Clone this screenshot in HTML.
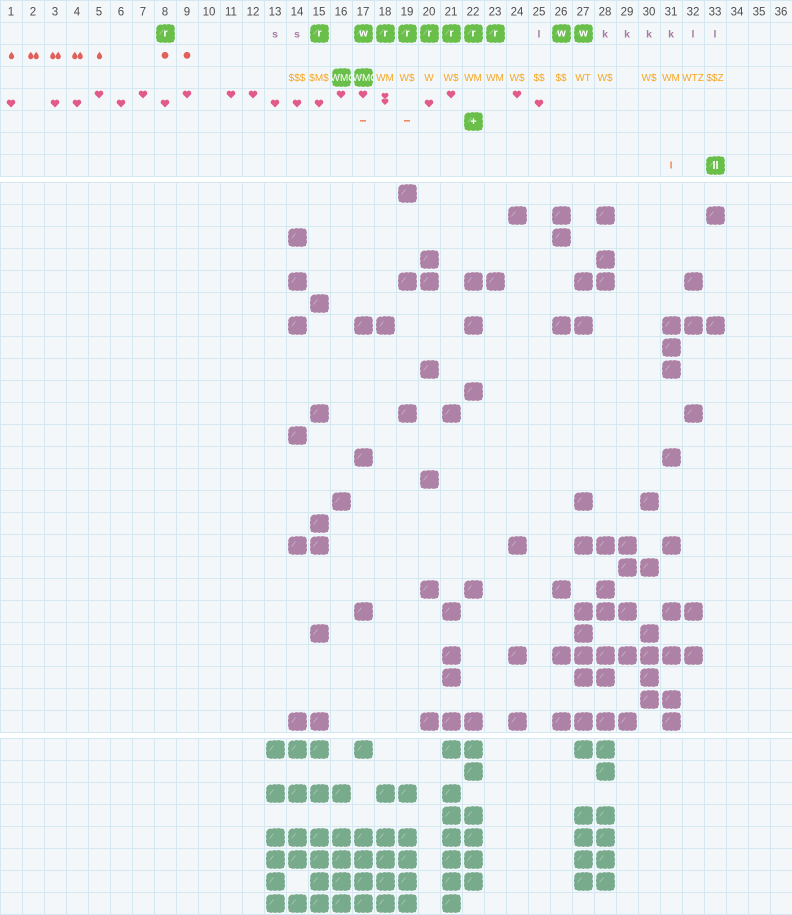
<!DOCTYPE html>
<html><head><meta charset="utf-8">
<style>
html,body{margin:0;padding:0;background:#fff;}
svg{display:block;}
text{font-family:"Liberation Sans",Arial,sans-serif;}
</style></head>
<body>
<svg width="792" height="915" viewBox="0 0 792 915" xmlns="http://www.w3.org/2000/svg">
<defs>
<pattern id="g1" x="0" y="0" width="22" height="22" patternUnits="userSpaceOnUse">
<rect width="22" height="22" fill="#f3f7f9"/><rect width="22" height="1" fill="#d4e8f1"/><rect width="1" height="22" fill="#d4e8f1"/>
</pattern>
<pattern id="g2" x="0" y="182" width="22" height="22" patternUnits="userSpaceOnUse">
<rect width="22" height="22" fill="#f3f7f9"/><rect width="22" height="1" fill="#d4e8f1"/><rect width="1" height="22" fill="#d4e8f1"/>
</pattern>
<pattern id="g3" x="0" y="738" width="22" height="22" patternUnits="userSpaceOnUse">
<rect width="22" height="22" fill="#f3f7f9"/><rect width="22" height="1" fill="#d4e8f1"/><rect width="1" height="22" fill="#d4e8f1"/>
</pattern>
<g id="B">
<path d="M4,3.5 Q6,1.8 8,3 Q10,1.5 12.5,2.6 Q15,1.5 17,2.8 Q19.8,2 20.3,4.5 Q21.5,7 20.2,9 Q21.8,11.5 20.4,13.5 Q21.8,16 20.2,18 Q20.5,20.6 17.8,20.2 Q15.5,21.6 13.5,20.3 Q11,21.6 9,20.2 Q6.5,21.5 4.8,20 Q2.2,20.2 2.7,17.5 Q1.3,15 2.6,13 Q1.2,10.5 2.6,8.5 Q1.5,5.5 4,3.5 Z"/>
<path d="M5.5,12.5 L9.5,7.5" stroke="#ffffff" stroke-opacity="0.35" stroke-width="0.9" fill="none"/>
</g>
<path id="H" d="M0,4 L-3.6,0.4 C-4.8,-0.8 -4.4,-3.2 -2.4,-3.8 C-1.2,-4.1 -0.4,-3.4 0,-2.6 C0.4,-3.4 1.2,-4.1 2.4,-3.8 C4.4,-3.2 4.8,-0.8 3.6,0.4 Z"/>
<path id="D" d="M0,-3.8 C1,-2.2 2.6,-0.6 2.6,1.2 A2.6,2.6 0 0 1 -2.6,1.2 C-2.6,-0.6 -1,-2.2 0,-3.8 Z"/>
</defs>

<rect x="0" y="0" width="792" height="177" fill="url(#g1)"/>
<rect x="0" y="182" width="792" height="551" fill="url(#g2)"/>
<rect x="0" y="738" width="792" height="177" fill="url(#g3)"/>

<!-- header -->
<g font-size="11.5" fill="#4d4d4d" text-anchor="middle">
<text x="11" y="15.5">1</text><text x="33" y="15.5">2</text><text x="55" y="15.5">3</text><text x="77" y="15.5">4</text><text x="99" y="15.5">5</text><text x="121" y="15.5">6</text><text x="143" y="15.5">7</text><text x="165" y="15.5">8</text><text x="187" y="15.5">9</text><text x="209" y="15.5">10</text><text x="231" y="15.5">11</text><text x="253" y="15.5">12</text><text x="275" y="15.5">13</text><text x="297" y="15.5">14</text><text x="319" y="15.5">15</text><text x="341" y="15.5">16</text><text x="363" y="15.5">17</text><text x="385" y="15.5">18</text><text x="407" y="15.5">19</text><text x="429" y="15.5">20</text><text x="451" y="15.5">21</text><text x="473" y="15.5">22</text><text x="495" y="15.5">23</text><text x="517" y="15.5">24</text><text x="539" y="15.5">25</text><text x="561" y="15.5">26</text><text x="583" y="15.5">27</text><text x="605" y="15.5">28</text><text x="627" y="15.5">29</text><text x="649" y="15.5">30</text><text x="671" y="15.5">31</text><text x="693" y="15.5">32</text><text x="715" y="15.5">33</text><text x="737" y="15.5">34</text><text x="759" y="15.5">35</text><text x="781" y="15.5">36</text>
</g>

<!-- bright green blobs -->
<g fill="#6abf4b">
<use href="#B" x="154" y="22"/><use href="#B" x="308" y="22"/><use href="#B" x="352" y="22"/><use href="#B" x="374" y="22"/><use href="#B" x="396" y="22"/><use href="#B" x="418" y="22"/><use href="#B" x="440" y="22"/><use href="#B" x="462" y="22"/><use href="#B" x="484" y="22"/><use href="#B" x="550" y="22"/><use href="#B" x="572" y="22"/>
<use href="#B" x="330" y="66"/><use href="#B" x="352" y="66"/>
<use href="#B" x="462" y="110"/>
<use href="#B" x="704" y="154"/>
</g>
<g fill="#ffffff" font-weight="bold" font-size="11" text-anchor="middle">
<text x="165.5" y="36.5">r</text><text x="319.5" y="36.5">r</text><text x="363.5" y="36.5">w</text><text x="385.5" y="36.5">r</text><text x="407.5" y="36.5">r</text><text x="429.5" y="36.5">r</text><text x="451.5" y="36.5">r</text><text x="473.5" y="36.5">r</text><text x="495.5" y="36.5">r</text><text x="561.5" y="36.5">w</text><text x="583.5" y="36.5">w</text>
<text x="473.5" y="125">+</text>
<text x="715.5" y="169">ll</text>
</g>
<g fill="#a87ba0" font-weight="bold" font-size="10.5" text-anchor="middle">
<text x="275" y="37.5">s</text><text x="297" y="37.5">s</text><text x="539" y="37.5">l</text><text x="605" y="37.5">k</text><text x="627" y="37.5">k</text><text x="649" y="37.5">k</text><text x="671" y="37.5">k</text><text x="693" y="37.5">l</text><text x="715" y="37.5">l</text>
</g>

<!-- row 2 drops -->
<g fill="#e0605a">
<use href="#D" x="11.5" y="55.5"/>
<use href="#D" x="30.8" y="55.5"/><use href="#D" x="36.2" y="55.5"/>
<use href="#D" x="52.8" y="55.5"/><use href="#D" x="58.2" y="55.5"/>
<use href="#D" x="74.8" y="55.5"/><use href="#D" x="80.2" y="55.5"/>
<use href="#D" x="99.5" y="55.5"/>
<circle cx="165" cy="55.3" r="3.4"/><circle cx="187" cy="55.3" r="3.4"/>
</g>

<!-- row 3 orange text -->
<g fill="#f5a623" font-size="10" text-anchor="middle">
<text x="297" y="81">$$$</text><text x="319" y="81">$M$</text><text x="385" y="81">WM</text><text x="407" y="81">W$</text><text x="429" y="81">W</text><text x="451" y="81">W$</text><text x="473" y="81">WM</text><text x="495" y="81">WM</text><text x="517" y="81">W$</text><text x="539" y="81">$$</text><text x="561" y="81">$$</text><text x="583" y="81">WT</text><text x="605" y="81">W$</text><text x="649" y="81">W$</text><text x="671" y="81">WM</text><text x="693" y="81">WTZ</text><text x="715" y="81">$$Z</text>
</g>
<svg x="330" y="66" width="22" height="22" overflow="hidden"><text x="0.5" y="15" fill="#ffffff" font-size="10">WMQ</text></svg>
<svg x="352" y="66" width="22" height="22" overflow="hidden"><text x="0.5" y="15" fill="#ffffff" font-size="10">WMQ</text></svg>

<!-- row 4 hearts -->
<g fill="#e25a87">
<use href="#H" x="11" y="103.5"/><use href="#H" x="55" y="103.5"/><use href="#H" x="77" y="103.5"/><use href="#H" x="121" y="103.5"/><use href="#H" x="165" y="103.5"/><use href="#H" x="275" y="103.5"/><use href="#H" x="297" y="103.5"/><use href="#H" x="319" y="103.5"/><use href="#H" x="429" y="103.5"/><use href="#H" x="539" y="103.5"/>
<use href="#H" x="99" y="94.5"/><use href="#H" x="143" y="94.5"/><use href="#H" x="187" y="94.5"/><use href="#H" x="231" y="94.5"/><use href="#H" x="253" y="94.5"/><use href="#H" x="341" y="94.5"/><use href="#H" x="363" y="94.5"/><use href="#H" x="451" y="94.5"/><use href="#H" x="517" y="94.5"/>
<g transform="translate(385,96) scale(0.8)"><use href="#H"/></g>
<g transform="translate(385,101.8) scale(0.8)"><use href="#H"/></g>
</g>

<!-- row 5 dashes, row 7 bar -->
<g fill="#f08a60">
<rect x="360" y="120" width="6" height="1.6"/>
<rect x="404" y="120" width="6" height="1.6"/>
<rect x="670.3" y="161.5" width="1.5" height="7"/>
</g>

<!-- section 2 purple -->
<g fill="#ad82a6">
<use href="#B" x="396" y="182"/>
<use href="#B" x="506" y="204"/><use href="#B" x="550" y="204"/><use href="#B" x="594" y="204"/><use href="#B" x="704" y="204"/>
<use href="#B" x="286" y="226"/><use href="#B" x="550" y="226"/>
<use href="#B" x="418" y="248"/><use href="#B" x="594" y="248"/>
<use href="#B" x="286" y="270"/><use href="#B" x="396" y="270"/><use href="#B" x="418" y="270"/><use href="#B" x="462" y="270"/><use href="#B" x="484" y="270"/><use href="#B" x="572" y="270"/><use href="#B" x="594" y="270"/><use href="#B" x="682" y="270"/>
<use href="#B" x="308" y="292"/>
<use href="#B" x="286" y="314"/><use href="#B" x="352" y="314"/><use href="#B" x="374" y="314"/><use href="#B" x="462" y="314"/><use href="#B" x="550" y="314"/><use href="#B" x="572" y="314"/><use href="#B" x="660" y="314"/><use href="#B" x="682" y="314"/><use href="#B" x="704" y="314"/>
<use href="#B" x="660" y="336"/>
<use href="#B" x="418" y="358"/><use href="#B" x="660" y="358"/>
<use href="#B" x="462" y="380"/>
<use href="#B" x="308" y="402"/><use href="#B" x="396" y="402"/><use href="#B" x="440" y="402"/><use href="#B" x="682" y="402"/>
<use href="#B" x="286" y="424"/>
<use href="#B" x="352" y="446"/><use href="#B" x="660" y="446"/>
<use href="#B" x="418" y="468"/>
<use href="#B" x="330" y="490"/><use href="#B" x="572" y="490"/><use href="#B" x="638" y="490"/>
<use href="#B" x="308" y="512"/>
<use href="#B" x="286" y="534"/><use href="#B" x="308" y="534"/><use href="#B" x="506" y="534"/><use href="#B" x="572" y="534"/><use href="#B" x="594" y="534"/><use href="#B" x="616" y="534"/><use href="#B" x="660" y="534"/>
<use href="#B" x="616" y="556"/><use href="#B" x="638" y="556"/>
<use href="#B" x="418" y="578"/><use href="#B" x="462" y="578"/><use href="#B" x="550" y="578"/><use href="#B" x="594" y="578"/>
<use href="#B" x="352" y="600"/><use href="#B" x="440" y="600"/><use href="#B" x="572" y="600"/><use href="#B" x="594" y="600"/><use href="#B" x="616" y="600"/><use href="#B" x="660" y="600"/><use href="#B" x="682" y="600"/>
<use href="#B" x="308" y="622"/><use href="#B" x="572" y="622"/><use href="#B" x="638" y="622"/>
<use href="#B" x="440" y="644"/><use href="#B" x="506" y="644"/><use href="#B" x="550" y="644"/><use href="#B" x="572" y="644"/><use href="#B" x="594" y="644"/><use href="#B" x="616" y="644"/><use href="#B" x="638" y="644"/><use href="#B" x="660" y="644"/><use href="#B" x="682" y="644"/>
<use href="#B" x="440" y="666"/><use href="#B" x="572" y="666"/><use href="#B" x="594" y="666"/><use href="#B" x="638" y="666"/>
<use href="#B" x="638" y="688"/><use href="#B" x="660" y="688"/>
<use href="#B" x="286" y="710"/><use href="#B" x="308" y="710"/><use href="#B" x="418" y="710"/><use href="#B" x="440" y="710"/><use href="#B" x="462" y="710"/><use href="#B" x="506" y="710"/><use href="#B" x="550" y="710"/><use href="#B" x="572" y="710"/><use href="#B" x="594" y="710"/><use href="#B" x="616" y="710"/><use href="#B" x="660" y="710"/>
</g>

<!-- section 3 green -->
<g fill="#78aa8c">
<use href="#B" x="264" y="738"/><use href="#B" x="286" y="738"/><use href="#B" x="308" y="738"/><use href="#B" x="352" y="738"/><use href="#B" x="440" y="738"/><use href="#B" x="462" y="738"/><use href="#B" x="572" y="738"/><use href="#B" x="594" y="738"/>
<use href="#B" x="462" y="760"/><use href="#B" x="594" y="760"/>
<use href="#B" x="264" y="782"/><use href="#B" x="286" y="782"/><use href="#B" x="308" y="782"/><use href="#B" x="330" y="782"/><use href="#B" x="374" y="782"/><use href="#B" x="396" y="782"/><use href="#B" x="440" y="782"/>
<use href="#B" x="440" y="804"/><use href="#B" x="462" y="804"/><use href="#B" x="572" y="804"/><use href="#B" x="594" y="804"/>
<use href="#B" x="264" y="826"/><use href="#B" x="286" y="826"/><use href="#B" x="308" y="826"/><use href="#B" x="330" y="826"/><use href="#B" x="352" y="826"/><use href="#B" x="374" y="826"/><use href="#B" x="396" y="826"/><use href="#B" x="440" y="826"/><use href="#B" x="462" y="826"/><use href="#B" x="572" y="826"/><use href="#B" x="594" y="826"/>
<use href="#B" x="264" y="848"/><use href="#B" x="286" y="848"/><use href="#B" x="308" y="848"/><use href="#B" x="330" y="848"/><use href="#B" x="352" y="848"/><use href="#B" x="374" y="848"/><use href="#B" x="396" y="848"/><use href="#B" x="440" y="848"/><use href="#B" x="462" y="848"/><use href="#B" x="572" y="848"/><use href="#B" x="594" y="848"/>
<use href="#B" x="264" y="870"/><use href="#B" x="308" y="870"/><use href="#B" x="330" y="870"/><use href="#B" x="352" y="870"/><use href="#B" x="374" y="870"/><use href="#B" x="396" y="870"/><use href="#B" x="440" y="870"/><use href="#B" x="462" y="870"/><use href="#B" x="572" y="870"/><use href="#B" x="594" y="870"/>
<use href="#B" x="264" y="892"/><use href="#B" x="286" y="892"/><use href="#B" x="308" y="892"/><use href="#B" x="330" y="892"/><use href="#B" x="352" y="892"/><use href="#B" x="374" y="892"/><use href="#B" x="396" y="892"/><use href="#B" x="440" y="892"/>
</g>
</svg>
</body></html>
